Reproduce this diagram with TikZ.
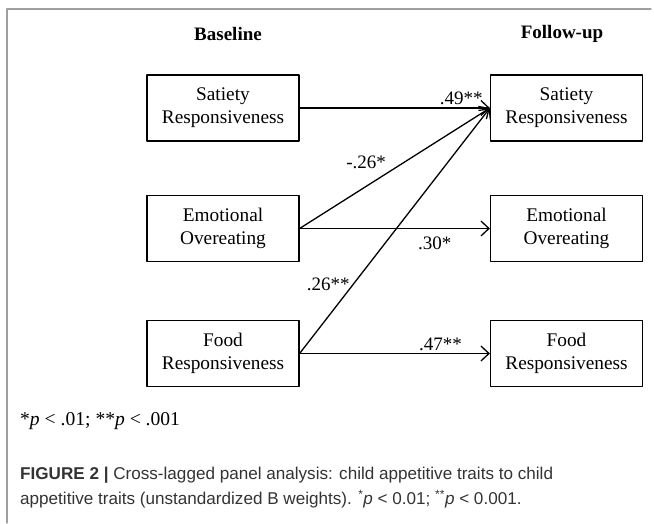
\documentclass[tikz,border=0pt]{standalone}
\usepackage{fontspec}
\setmainfont{Liberation Serif}
\newfontfamily\capfont{Liberation Sans}
\usetikzlibrary{arrows.meta, calc}

\tikzset{
    trait/.style={draw, line width=1.2pt, minimum width=152pt, minimum height=66pt,
        align=center, inner sep=0pt, font=\fontsize{19.3}{23}\selectfont},
    coef/.style={font=\fontsize{19}{22}\selectfont, inner sep=3pt},
    path/.style={line width=1.3pt, -{Straight Barb[length=8pt,width=15pt,line width=1.3pt]}}
}

\begin{document}
\begin{tikzpicture}[line cap=round,line join=round,x=1pt,y=-1pt]
    \useasboundingbox (0,0) rectangle (654,523);
    \draw[gray!75, line width=1.2pt] (7,523) -- (7,9) -- (651,9);

    % Time points
    \draw (228,34) node[font=\fontsize{19}{22}\selectfont\bfseries] (T1) {Baseline};
    \draw (562,34) node[font=\fontsize{19}{22}\selectfont\bfseries] (T2) {Follow-up};

    % Baseline traits
    \draw (223,108) node[trait] (SR1) {Satiety\\Responsiveness};
    \draw (223,228.5) node[trait] (EO1) {Emotional\\Overeating};
    \draw (223,353.5) node[trait] (FR1) {Food\\Responsiveness};

    % Follow-up traits
    \draw (566.5,108) node[trait] (SR2) {Satiety\\Responsiveness};
    \draw (566.5,228.5) node[trait] (EO2) {Emotional\\Overeating};
    \draw (566.5,353.5) node[trait] (FR2) {Food\\Responsiveness};

    % Paths
    \foreach \source/\target in {SR1/SR2, EO1/EO2, FR1/FR2, EO1/SR2, FR1/SR2} {
            \draw[path] (\source.east) -- (\target.west);
        }

    % Coefficients
    \path (SR1.east) -- (SR2.west) node[coef, pos=0.85, above] (c1) {.49**};
    \path (EO1.east) -- (SR2.west) node[coef, pos=0.47, above left] (c2) {-.26*};
    \path (EO1.east) -- (EO2.west) node[coef, pos=0.71, below=5pt] (c3) {.30*};
    \path (FR1.east) -- (SR2.west) node[coef, pos=0.28, left] (c4) {.26**};
    \path (FR1.east) -- (FR2.west) node[coef, pos=0.74, above] (c5) {.47**};

    % Notes
    \draw (20,421) node[anchor=west, inner sep=0pt, font=\fontsize{19.6}{22}\selectfont] (note)
        {*\textit{p} < .01; **\textit{p} < .001};
    \draw (20,488) node[anchor=west, inner sep=0pt, align=left, text=black!80,
        font=\capfont\fontsize{17.1}{25}\selectfont] (cap)
        {\textbf{FIGURE 2 |} Cross-lagged panel analysis: child appetitive traits to child\\
        appetitive traits (unstandardized B weights). \textsuperscript{*}\textit{p} < 0.01; \textsuperscript{**}\textit{p} < 0.001.};
\end{tikzpicture}
\end{document}
